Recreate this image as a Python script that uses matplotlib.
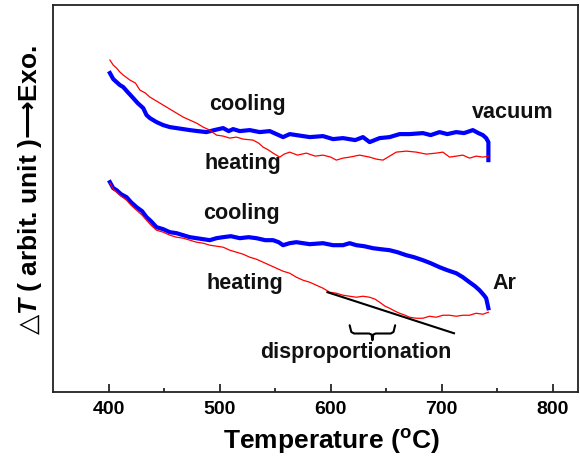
import matplotlib
matplotlib.use("Agg")
import matplotlib.pyplot as plt
import numpy as np

plt.rcParams['font.family'] = ['Liberation Sans', 'DejaVu Sans']
plt.rcParams['font.weight'] = 'bold'
plt.rcParams['mathtext.fontset'] = 'custom'
plt.rcParams['mathtext.rm'] = 'Liberation Sans:bold'
plt.rcParams['mathtext.bf'] = 'Liberation Sans:bold'
plt.rcParams['mathtext.bfit'] = 'Liberation Sans:italic:bold'
plt.rcParams['mathtext.it'] = 'Liberation Sans:italic:bold'
plt.rcParams['mathtext.sf'] = 'DejaVu Sans'
plt.rcParams['mathtext.fallback'] = 'stixsans'

# ---- data (temperature in deg C, signal in arbitrary units) ----
vac_cool_T = [401, 404, 407, 410, 413, 417, 422, 426, 431, 434, 437, 443, 449, 455, 461, 467, 473, 480, 488,
              495, 503, 508, 512, 518, 527, 536, 545, 551, 557, 563, 569, 581, 593, 602, 611, 622, 629, 635,
              644, 653, 662, 671, 683, 690, 698, 705, 713, 720, 728, 733, 737, 740, 742, 742]
vac_cool_y = [319, 313, 310, 307, 305, 300, 294, 289, 284, 277, 274, 270, 267, 265, 264, 263, 262, 261, 260,
              262, 264, 261, 263, 261, 262, 260, 261, 258, 255, 258, 257, 255, 256, 253, 254, 252, 255, 250,
              254, 255, 258, 258, 259, 257, 260, 258, 260, 259, 262, 259, 257, 254, 250, 232]

vac_heat_T = [401, 404, 407, 410, 413, 419, 424, 428, 433, 437, 443, 449, 455, 461, 467, 473, 479, 485, 491,
              497, 503, 509, 515, 521, 530, 535, 539, 544, 548, 554, 558, 563, 570, 578, 586, 593, 600, 605,
              611, 617, 626, 635, 641, 647, 653, 659, 668, 677, 686, 695, 701, 707, 713, 719, 725, 731, 737, 742]
vac_heat_y = [332, 327, 324, 320, 317, 312, 309, 302, 299, 295, 291, 287, 283, 279, 275, 272, 269, 265, 262,
              257, 256, 254, 255, 253, 252, 249, 245, 242, 239, 235, 238, 240, 237, 239, 236, 237, 235, 232,
              234, 235, 237, 235, 233, 232, 236, 240, 241, 240, 238, 239, 240, 235, 236, 237, 234, 236, 235, 236]

ar_cool_T = [401, 404, 407, 411, 416, 420, 425, 430, 434, 438, 443, 449, 455, 461, 467, 473, 479, 485, 491,
             497, 503, 510, 518, 526, 533, 541, 548, 553, 557, 563, 569, 581, 593, 602, 611, 617, 623, 630,
             638, 645, 653, 660, 668, 675, 683, 690, 698, 705, 713, 719, 725, 730, 734, 738, 740, 742]
ar_cool_y = [210, 204, 202, 198, 195, 190, 185, 181, 175, 171, 165, 163, 160, 159, 157, 155, 154, 153, 152,
             154, 155, 156, 154, 155, 154, 152, 152, 150, 147, 149, 150, 148, 149, 147, 147, 149, 147, 146,
             144, 143, 142, 140, 137, 135, 132, 129, 125, 122, 119, 115, 110, 106, 102, 97, 94, 84]

ar_heat_T = [401, 404, 407, 411, 416, 420, 425, 430, 434, 438, 443, 449, 455, 461, 467, 473, 479, 485, 491,
             497, 503, 509, 515, 521, 527, 533, 539, 545, 551, 557, 563, 569, 575, 581, 587, 593, 599, 605,
             611, 617, 623, 629, 635, 640, 644, 649, 653, 658, 662, 667, 671, 677, 683, 689, 695, 701, 707,
             713, 719, 725, 731, 737, 742]
ar_heat_y = [209, 203, 200, 196, 192, 187, 182, 177, 172, 167, 162, 160, 157, 155, 154, 152, 150, 149, 147,
             146, 145, 142, 140, 138, 135, 133, 130, 127, 124, 121, 119, 115, 112, 110, 107, 104, 100, 99,
             97, 96, 95, 96, 95, 93, 90, 86, 84, 81, 79, 77, 75, 74, 74, 76, 75, 77, 77,
             76, 77, 77, 79, 78, 80]

tangent_T = [597, 711]
tangent_y = [100, 59]

brace_T = [617, 658]
brace_y = [67, 52]

x_ticks = [400, 500, 600, 700, 800]
x_minor = [450, 550, 650, 750]

labels = [
    ("cooling", 525, 288),
    ("heating", 521, 229),
    ("vacuum", 764, 280),
    ("cooling", 519.5, 179),
    ("heating", 522.6, 109),
    ("Ar", 756, 109),
    ("disproportionation", 622.7, 40),
]

# ---- figure ----
fig = plt.figure(figsize=(5.80, 4.58), dpi=100)
ax = fig.add_axes([53.3/580, (458-392.3)/458, (578.3-53.3)/580, (392.3-5)/458])

ax.plot(vac_heat_T, vac_heat_y, color='#ff0000', lw=0.9, zorder=3)
ax.plot(vac_cool_T, vac_cool_y, color='#0000ff', lw=3.0, zorder=2)
ax.plot(ar_heat_T, ar_heat_y, color='#ff0000', lw=0.9, zorder=3)
ax.plot(ar_cool_T, ar_cool_y, color='#0000ff', lw=3.0, zorder=2)
ax.plot(tangent_T, tangent_y, color='black', lw=1.5, zorder=4)

# curly brace (opening downward)
b0, b1 = brace_T
top, bot = brace_y
mid = (b0 + b1) / 2
h = top - bot
bx = [b0, b0 + 1.5, b0 + 4, mid - 3, mid - 0.8, mid, mid + 0.8, mid + 3, b1 - 4, b1 - 1.5, b1]
by = [top, top - 0.45*h, top - 0.55*h, top - 0.55*h, top - 0.62*h, bot, top - 0.62*h, top - 0.55*h,
      top - 0.55*h, top - 0.45*h, top]
ax.plot(bx, by, color='black', lw=1.5, solid_capstyle='round', solid_joinstyle='round')

for txt, xx, yy in labels:
    ax.text(xx, yy, txt, fontsize=15.5, fontweight='bold', ha='center', va='center', color='#111111')

ax.set_xlim(350, 823)
ax.set_ylim(0, 387)
ax.set_xticks(x_ticks)
ax.set_xticks(x_minor, minor=True)
ax.set_yticks([])
ax.tick_params(axis='x', which='major', direction='in', length=6, width=1.1, top=False,
               labelsize=14, pad=6)
ax.tick_params(axis='x', which='minor', direction='in', length=3, width=1.1, top=False)
for lab in ax.get_xticklabels():
    lab.set_fontweight('bold')
for s in ax.spines.values():
    s.set_linewidth(1.3)
    s.set_color('#222222')

ax.set_xlabel("Temperature ($^{\\mathregular{o}}$C)", fontsize=19, fontweight='bold')
ax.xaxis.set_label_coords(0.529, -0.128)
ax.xaxis.label.set_va('center')

ax.set_ylabel("$\\mathsf{\u25B3}\\mathbfit{T}$ ( arbit. unit )$\\mathsf{\u27F6}$Exo.", fontsize=19, fontweight='bold')
ax.yaxis.set_label_coords(-0.044, 0.522)
ax.yaxis.label.set_va('center')
ax.yaxis.label.set_ha('center')

fig.savefig("out.png", dpi=100)
